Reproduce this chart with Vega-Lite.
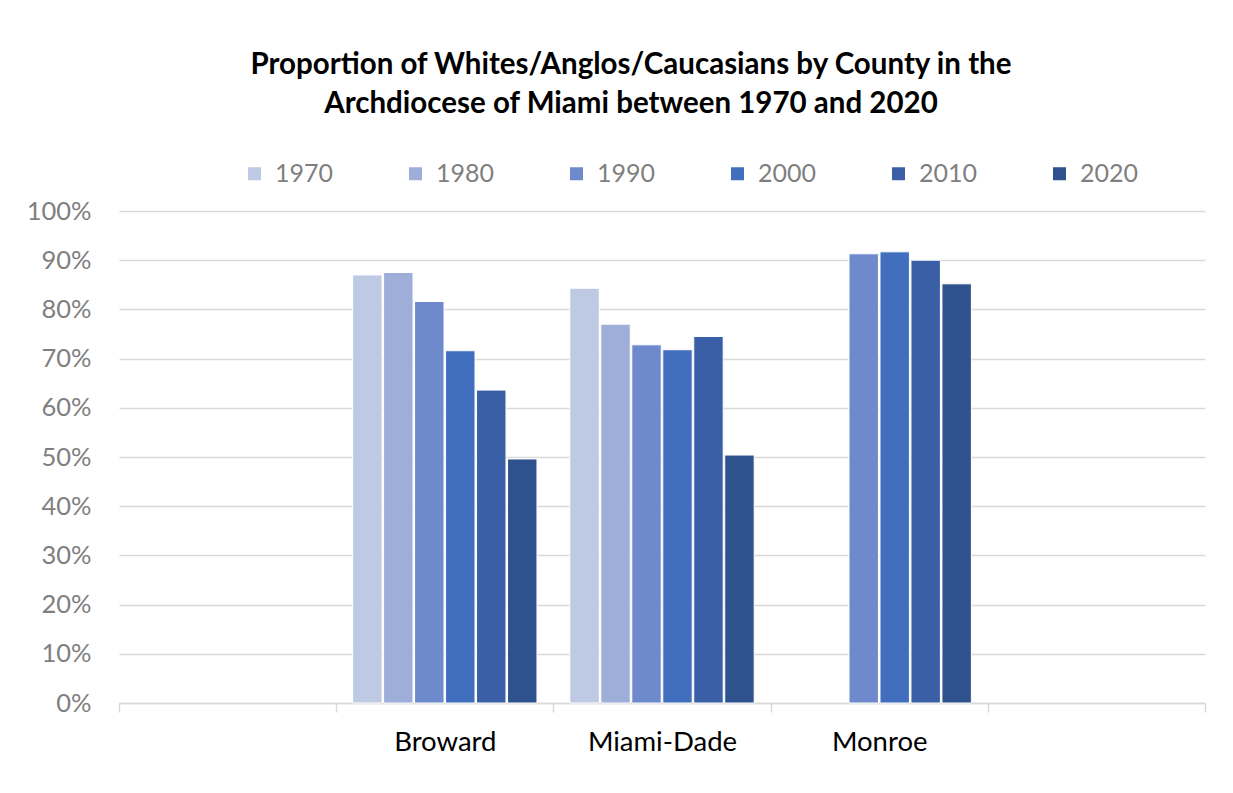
{
  "$schema": "https://vega.github.io/schema/vega-lite/v6.json",
  "width": 1086,
  "height": 492,
  "autosize": "none",
  "padding": {"left": 119, "top": 211, "right": 28, "bottom": 90},
  "background": "white",
  "title": {
    "text": ["Proportion of Whites/Anglos/Caucasians by County in the", "Archdiocese of Miami between 1970 and 2020"],
    "font": "Lato",
    "fontSize": 29.5,
    "fontWeight": "bold",
    "color": "#000000",
    "anchor": "middle",
    "frame": "group",
    "dx": -31,
    "lineHeight": 39,
    "offset": 42
  },
  "data": {
    "values": [
      {"county": "Broward", "year": "1970", "value": 0.870},
      {"county": "Broward", "year": "1980", "value": 0.875},
      {"county": "Broward", "year": "1990", "value": 0.816},
      {"county": "Broward", "year": "2000", "value": 0.716},
      {"county": "Broward", "year": "2010", "value": 0.636},
      {"county": "Broward", "year": "2020", "value": 0.496},
      {"county": "Miami-Dade", "year": "1970", "value": 0.843},
      {"county": "Miami-Dade", "year": "1980", "value": 0.770},
      {"county": "Miami-Dade", "year": "1990", "value": 0.728},
      {"county": "Miami-Dade", "year": "2000", "value": 0.718},
      {"county": "Miami-Dade", "year": "2010", "value": 0.745},
      {"county": "Miami-Dade", "year": "2020", "value": 0.504},
      {"county": "Monroe", "year": "1990", "value": 0.913},
      {"county": "Monroe", "year": "2000", "value": 0.917},
      {"county": "Monroe", "year": "2010", "value": 0.900},
      {"county": "Monroe", "year": "2020", "value": 0.852}
    ]
  },
  "mark": {"type": "bar", "stroke": "white", "strokeWidth": 1},
  "encoding": {
    "x": {
      "field": "county",
      "type": "nominal",
      "sort": null,
      "scale": {"domain": [" ", "Broward", "Miami-Dade", "Monroe", "  "], "paddingInner": 0, "paddingOuter": 0},
      "axis": {
        "title": null,
        "labelAngle": 0,
        "labelFont": "Lato",
        "labelFontSize": 27.5,
        "labelColor": "#000000",
        "labelPadding": 16,
        "domainColor": "#d9d9d9",
        "domainWidth": 1.5,
        "tickColor": "#d9d9d9",
        "tickWidth": 1.5,
        "tickSize": 9,
        "tickBand": "extent",
        "grid": false
      }
    },
    "xOffset": {
      "field": "year",
      "type": "nominal",
      "scale": {"domain": ["1970", "1980", "1990", "2000", "2010", "2020"], "paddingInner": 0.05, "paddingOuter": 0.53}
    },
    "y": {
      "field": "value",
      "type": "quantitative",
      "scale": {"domain": [0, 1], "nice": false},
      "axis": {
        "title": null,
        "format": ".0%",
        "values": [0, 0.1, 0.2, 0.3, 0.4, 0.5, 0.6, 0.7, 0.8, 0.9, 1],
        "labelFont": "Lato",
        "labelFontSize": 25.5,
        "labelColor": "#7f7f7f",
        "labelPadding": 28,
        "ticks": false,
        "domain": false,
        "grid": true,
        "gridColor": "#d9d9d9",
        "gridWidth": 1.5
      }
    },
    "color": {
      "field": "year",
      "type": "nominal",
      "scale": {
        "domain": ["1970", "1980", "1990", "2000", "2010", "2020"],
        "range": ["#bec9e4", "#9eaed9", "#6e8acc", "#416ebd", "#3a5fa6", "#2f528f"]
      },
      "legend": {
        "title": null,
        "orient": "none",
        "direction": "horizontal",
        "columns": 6,
        "legendX": 123,
        "legendY": -50,
        "padding": 0,
        "symbolType": "square",
        "symbolSize": 169,
        "symbolStrokeWidth": 0,
        "labelFont": "Lato",
        "labelFontSize": 25,
        "labelColor": "#7f7f7f",
        "labelOffset": 8,
        "columnPadding": 69
      }
    }
  },
  "config": {"view": {"stroke": null}}
}
